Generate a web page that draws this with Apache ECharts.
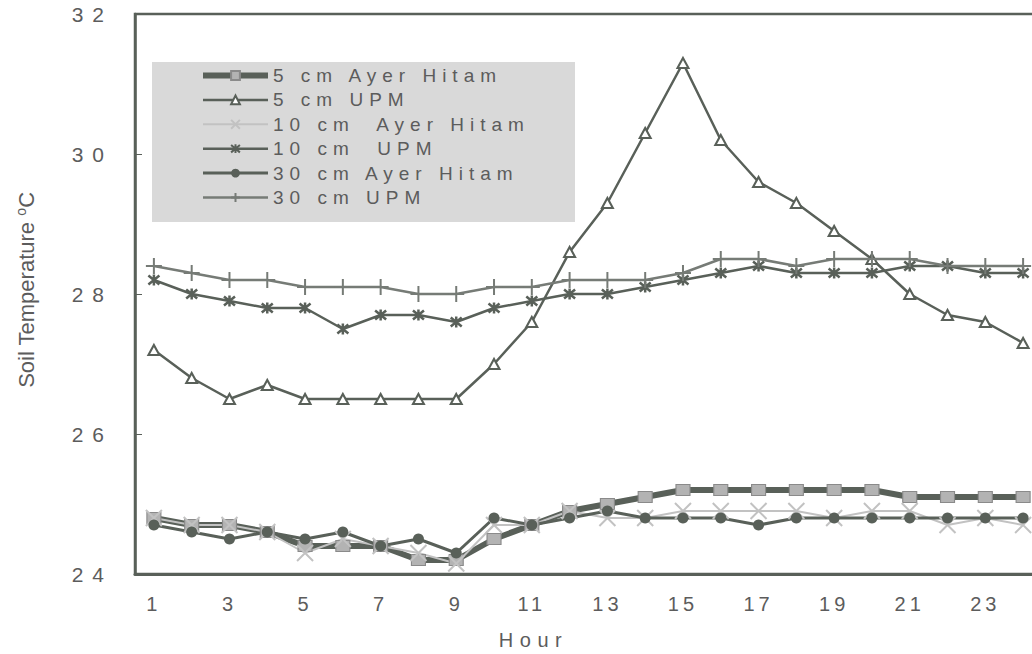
<!DOCTYPE html>
<html>
<head>
<meta charset="utf-8">
<script src="https://cdn.jsdelivr.net/npm/echarts@6/dist/echarts.min.js"></script>
<style>
html,body{margin:0;padding:0;background:#fff;}
#c{width:1032px;height:654px;}
</style>
</head>
<body>
<div id="c"></div>
<script>
// ---- data ----
const hours = ['1','2','3','4','5','6','7','8','9','10','11','12','13','14','15','16','17','18','19','20','21','22','23','24'];
const seriesNames = ['5 cm Ayer Hitam','5 cm UPM','10 cm  Ayer Hitam','10 cm  UPM','30 cm Ayer Hitam','30 cm UPM'];
const ayerHitam5 = [24.8,24.7,24.7,24.6,24.4,24.4,24.4,24.2,24.2,24.5,24.7,24.9,25.0,25.1,25.2,25.2,25.2,25.2,25.2,25.2,25.1,25.1,25.1,25.1];
const upm5 = [27.2,26.8,26.5,26.7,26.5,26.5,26.5,26.5,26.5,27.0,27.6,28.6,29.3,30.3,31.3,30.2,29.6,29.3,28.9,28.5,28.0,27.7,27.6,27.3];
const ayerHitam10 = [24.8,24.7,24.7,24.6,24.3,24.5,24.4,24.3,24.15,24.7,24.7,24.9,24.8,24.8,24.9,24.9,24.9,24.9,24.8,24.9,24.9,24.7,24.8,24.7];
const upm10 = [28.2,28.0,27.9,27.8,27.8,27.5,27.7,27.7,27.6,27.8,27.9,28.0,28.0,28.1,28.2,28.3,28.4,28.3,28.3,28.3,28.4,28.4,28.3,28.3];
const ayerHitam30 = [24.7,24.6,24.5,24.6,24.5,24.6,24.4,24.5,24.3,24.8,24.7,24.8,24.9,24.8,24.8,24.8,24.7,24.8,24.8,24.8,24.8,24.8,24.8,24.8];
const upm30 = [28.4,28.3,28.2,28.2,28.1,28.1,28.1,28.0,28.0,28.1,28.1,28.2,28.2,28.2,28.3,28.5,28.5,28.4,28.5,28.5,28.5,28.4,28.4,28.4];
const yMin = 24, yMax = 32, yStep = 2;
const xTitle = 'Hour';
const yTitle = 'Soil Temperature ';

// ---- styles ----
const dark = '#596059';
const mid = '#767b76';
const light = '#c2c2c2';
const textCol = '#5c5c5c';
const FONT = 'Arial, "Liberation Sans", sans-serif';

const X_PATH = 'path://M0,0L10,10M10,0L0,10';
const AST_PATH = 'path://M0,0L10,10M10,0L0,10M5,-1L5,11';
const PLUS_PATH = 'path://M5,0L5,10M0,5L10,5';

const chart = echarts.init(document.getElementById('c'), null, {renderer: 'svg'});

const option = {
  animation: false,
  backgroundColor: '#fff',
  graphic: [{
    type: 'rect', z: 1, silent: true,
    shape: {x: 152, y: 62, width: 423, height: 160},
    style: {fill: '#d9d9d9'}
  }],
  grid: {
    left: 135, top: 14, right: -10, bottom: 80,
    outerBoundsMode: 'none', containLabel: false,
    show: true, borderColor: dark, borderWidth: 2.5, backgroundColor: 'transparent'
  },
  legend: {
    orient: 'vertical', left: 200, top: 66, padding: 0,
    itemWidth: 65, itemHeight: 11, itemGap: 5.4, z: 5,
    lineStyle: {width: 'inherit'},
    textStyle: {fontFamily: FONT, fontSize: 19, lineHeight: 19, color: textCol},
    data: seriesNames
  },
  xAxis: {
    type: 'category', data: hours, boundaryGap: true,
    axisLine: {lineStyle: {color: dark, width: 3}},
    axisTick: {inside: true, length: 6, interval: 0, lineStyle: {color: dark, width: 1}},
    axisLabel: {interval: 1, margin: 20, fontFamily: FONT, fontSize: 20, color: textCol},
    name: xTitle, nameLocation: 'middle', nameGap: 56,
    nameTextStyle: {fontFamily: FONT, fontSize: 20, color: textCol, padding: [0, 110, 0, 0]},
    splitLine: {show: false}
  },
  yAxis: {
    type: 'value', min: yMin, max: yMax, interval: yStep,
    axisLine: {show: true, lineStyle: {color: dark, width: 2.5}},
    axisTick: {show: true, inside: true, length: 7, lineStyle: {color: dark, width: 1}},
    axisLabel: {margin: 22, fontFamily: FONT, fontSize: 21, color: textCol},
    splitLine: {show: false},
    name: yTitle + '{sup|o}C', nameLocation: 'middle', nameGap: 97, nameRotate: 90,
    nameTextStyle: {
      fontFamily: FONT, fontSize: 22, color: textCol, padding: [0, 0, 0, 8],
      rich: {sup: {fontFamily: FONT, fontSize: 14, color: textCol, verticalAlign: 'top', padding: [0, 0, 10, 0]}}
    }
  },
  series: [
    {
      name: seriesNames[0], type: 'line', data: ayerHitam5, z: 3,
      color: dark,
      lineStyle: {color: dark, width: 6},
      symbol: 'rect', symbolSize: [14, 11],
      itemStyle: {color: '#b3b3b3', borderColor: '#8a8a8a', borderWidth: 1}
    },
    {
      name: seriesNames[1], type: 'line', data: upm5, z: 3,
      color: dark,
      lineStyle: {color: dark, width: 2.5},
      symbol: 'triangle', symbolSize: [11, 10],
      itemStyle: {color: '#ffffff', borderColor: dark, borderWidth: 2}
    },
    {
      name: seriesNames[2], type: 'line', data: ayerHitam10, z: 3,
      color: light,
      lineStyle: {color: light, width: 2},
      symbol: X_PATH, symbolSize: 16,
      itemStyle: {color: light, borderColor: light, borderWidth: 2}
    },
    {
      name: seriesNames[3], type: 'line', data: upm10, z: 3,
      color: dark,
      lineStyle: {color: dark, width: 2.5},
      symbol: AST_PATH, symbolSize: 11,
      itemStyle: {color: dark, borderColor: dark, borderWidth: 2.5}
    },
    {
      name: seriesNames[4], type: 'line', data: ayerHitam30, z: 3,
      color: dark,
      lineStyle: {color: dark, width: 3},
      symbol: 'circle', symbolSize: 11,
      itemStyle: {color: dark, borderColor: dark, borderWidth: 0}
    },
    {
      name: seriesNames[5], type: 'line', data: upm30, z: 3,
      color: mid,
      lineStyle: {color: mid, width: 2.5},
      symbol: PLUS_PATH, symbolSize: 16,
      itemStyle: {color: mid, borderColor: mid, borderWidth: 2}
    }
  ]
};

chart.setOption(option);

// widen letter spacing of the printed-looking labels (title on y axis stays normal)
function spaceText() {
  const texts = document.querySelectorAll('#c svg text');
  texts.forEach(t => {
    const s = (t.textContent || '').trim();
    if (s === '' ) return;
    if (s.indexOf('Soil') === 0 || s === 'o' || s === 'C') return;
    let sp = 0;
    if (s === xTitle) sp = 6.5;
    else if (/^\d+$/.test(s)) {
      sp = (t.getAttribute('text-anchor') === 'end') ? 9 : 4;
    } else sp = 6;
    t.setAttribute('letter-spacing', sp + 'px');
    t.style.letterSpacing = sp + 'px';
    t.setAttribute('xml:space', 'preserve');
    t.style.whiteSpace = 'pre';
  });
}
chart.on('finished', spaceText);
spaceText();
setTimeout(spaceText, 50);
</script>
</body>
</html>
